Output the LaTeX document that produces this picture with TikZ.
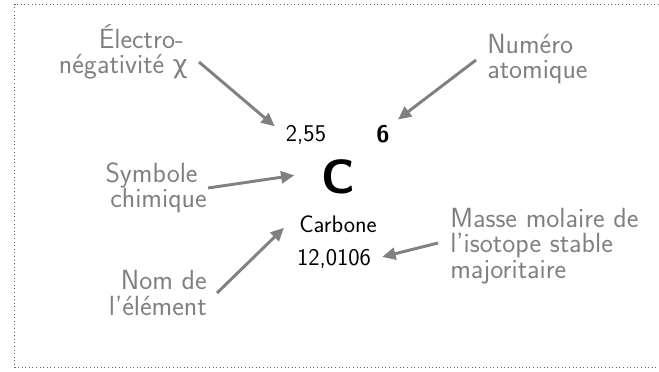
\documentclass[tikz,border=0pt]{standalone}
\usepackage{fontspec}
\newfontfamily\grecfont[Scale=0.92]{DejaVu Sans}
\usetikzlibrary{arrows.meta}
\tikzset{etiquette/.style={text=gray,font=\sffamily\fontsize{20.8}{19.2}\selectfont,inner sep=0pt}}
\tikzset{valeur/.style={font=\sffamily\fontsize{18}{20}\selectfont,inner sep=0pt}}
\tikzset{fleche/.style={draw=gray,line width=2.2pt,-{Triangle[length=10pt,width=9pt]}}}
\tikzset{cadre/.style={draw=gray!80!black,dotted,line width=0.7pt}}

\begin{document}
\begin{tikzpicture}[x=0.75pt,y=-0.75pt]
		\useasboundingbox (0,0) rectangle (659,371);
		\draw[cadre] (659,4) -| (14.5,367.5) -- (659,367.5);
		% la case de l'element
		\node[valeur,anchor=base] (en) at (306,141.7) {2,55};
		\node[valeur,anchor=base] (z) at (383,142) {\bfseries 6};
		\node[anchor=base,font=\sffamily\bfseries\fontsize{36}{40}\selectfont,inner sep=0pt] (sym) at (338.5,193) {C};
		\node[valeur,anchor=base] (nom) at (338,232) {Carbone};
		\node[valeur,anchor=base] (masse) at (334,265.5) {12,0106};
		% les legendes
		\node[etiquette,align=right,anchor=east] (lchi) at (188,52) {Électro-\kern3pt\\négativité {\grecfont χ}};
		\node[etiquette,align=left,anchor=west] (lnum) at (487,59) {Numéro\\atomique};
		\node[etiquette,align=right,anchor=east] (lsym) at (207,188) {Symbole\kern.33em\\chimique};
		\node[etiquette,align=right,anchor=east] (lnom) at (207,293) {Nom de\\l'élément};
		\node[etiquette,align=left,anchor=west] (lmasse) at (450,246) {Masse molaire de\\l'isotope stable\\majoritaire};
		\path[fleche] ([shift={(11,10)}]lchi.east) -- ([shift={(-11,1)}]en.north west);
		\path[fleche] ([shift={(-11,1)}]lnum.west) -- ([shift={(8,-5)}]z.north east);
		\path[fleche] ([shift={(1,0)}]lsym.east) -- ([shift={(-27,-1)}]sym.west);
		\path[fleche] ([shift={(10,0)}]lnom.east) -- ([shift={(-15,4)}]nom.west);
		\path[fleche] ([shift={(-12,-3)}]lmasse.west) -- ([shift={(11,-2)}]masse.east);
	\end{tikzpicture}
\end{document}
